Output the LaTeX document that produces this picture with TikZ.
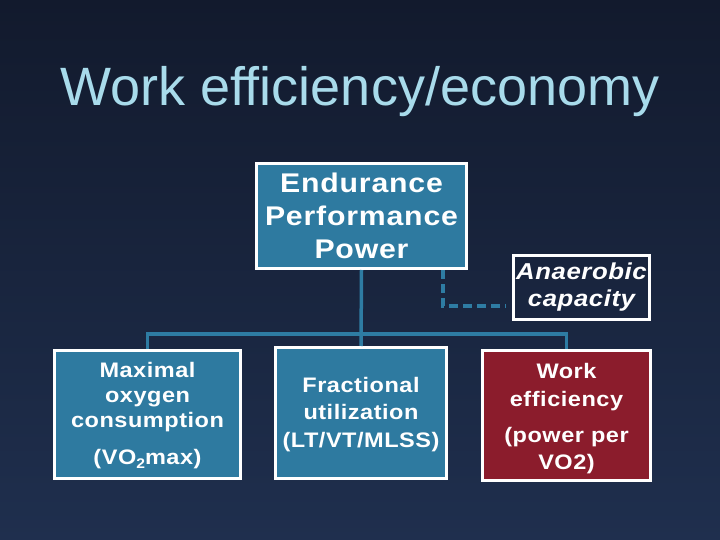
\documentclass[tikz,border=0pt]{standalone}
\usepackage{fontspec}
\setmainfont{Liberation Sans}
\newfontfamily\boxf[FakeStretch=1.12,LetterSpace=2.5]{Liberation Sans}
\newfontfamily\topf[FakeStretch=1.12,LetterSpace=3]{Liberation Sans}
\definecolor{bgtop}{HTML}{121A2D}
\definecolor{bgbot}{HTML}{1F2F4E}
\definecolor{titlec}{HTML}{A8DBEB}
\definecolor{steel}{HTML}{2E7AA0}
\definecolor{wine}{HTML}{8B1C2C}
\definecolor{conn}{HTML}{2E7CA3}
\begin{document}
\begin{tikzpicture}[x=1pt,y=-1pt,
  box/.style={draw=white, line width=3pt, inner sep=0pt, align=center, text=white},
  bluebox/.style={box, fill=steel},
  redbox/.style={box, fill=wine},
  darkbox/.style={box},
  connline/.style={draw=conn, line width=3.5pt},
  dashconn/.style={draw=conn, line width=4pt, dash pattern=on 9pt off 5pt},
  title/.style={text=titlec, font=\fontsize{54}{60}\selectfont, anchor=base, inner sep=0pt}]
\useasboundingbox (0,0) rectangle (720,540);
\shade[top color=bgtop, bottom color=bgbot] (0,0) rectangle (720,540);

\node[title] (ttl) at (360,106) {Work efficiency/economy};

\node[bluebox, minimum width=210pt, minimum height=105pt,
  font=\topf\bfseries\fontsize{27}{33}\selectfont] (top) at (361.5,216)
  {Endurance\\Performance\\Power};

\node[darkbox, minimum width=136pt, minimum height=64pt,
  font=\boxf\bfseries\itshape\fontsize{23}{27}\selectfont] (anaer) at (581.5,287.5)
  {Anaerobic\\capacity};

\node[bluebox, minimum width=186pt, minimum height=128pt,
  font=\boxf\bfseries\fontsize{21}{25}\selectfont] (vo2) at (147.5,414.5)
  {\rule{0pt}{18pt}Maximal\\oxygen\\consumption\\[12pt](VO\raisebox{-4pt}{\fontsize{14}{14}\selectfont 2}max)};

\node[bluebox, minimum width=171pt, minimum height=131pt,
  font=\boxf\bfseries\fontsize{21}{27}\selectfont] (frac) at (361,413)
  {\rule{0pt}{18pt}Fractional\\utilization\\[1pt](LT/VT/MLSS)};

\node[redbox, minimum width=168pt, minimum height=130pt,
  font=\boxf\bfseries\fontsize{21}{28}\selectfont] (work) at (566.5,415.5)
  {\rule{0pt}{21pt}Work\\efficiency\\[8pt](power per\\[-1pt]VO2)};

\coordinate (bus) at (361,334);
\draw[connline] (top.south) -- (frac.north);
\draw[connline] (vo2.north) |- (bus) -| (work.north);
\draw[dashconn, shorten >=6pt] (top.south -| 443,0) |- ([yshift=-18.5pt]anaer.west);
\end{tikzpicture}
\end{document}
